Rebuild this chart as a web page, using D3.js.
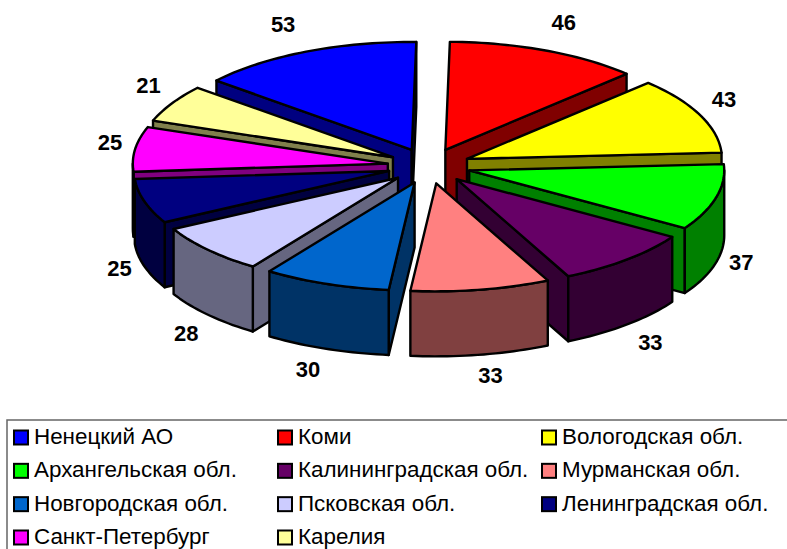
<!DOCTYPE html>
<html><head><meta charset="utf-8">
<script src="https://cdn.jsdelivr.net/npm/d3@7"></script>
<style>html,body{margin:0;padding:0;background:#fff;overflow:hidden}svg{display:block}text{font-family:"Liberation Sans",Arial,sans-serif}</style>
</head><body><svg id="c" width="787" height="549"></svg>
<script>
const regions = ["Ненецкий АО","Коми","Вологодская обл.","Архангельская обл.","Калининградская обл.","Мурманская обл.","Новгородская обл.","Псковская обл.","Ленинградская обл.","Санкт-Петербург","Карелия"];
const values = [53,46,43,37,33,33,30,28,25,25,21];
const topColors = ["#0000FF","#FF0000","#FFFF00","#00FF00","#660066","#FF8080","#0066CC","#CCCCFF","#000080","#FF00FF","#FFFF99"];
const sideColors = ["#000080","#800000","#808000","#008000","#330033","#804040","#003366","#666680","#000040","#800080","#80804C"];
const labelNudgeX = [-7,3,-11,-12,-2,3,-5,7,12,13,10];
const labelNudgeY = [0,-1,-3,-4,-1,-5,-4,2,-3,-3,-3];

const svg = d3.select("#c");
const cx = 429, cy = 166, rx = 255, ry = 108, depth = 65, explode = 0.163;
const firstAngle = -50 * Math.PI / 180;
const X = d3.scaleLinear().domain([-1,1]).range([cx-rx,cx+rx]);
const Y = d3.scaleLinear().domain([-1,1]).range([cy-ry,cy+ry]);
const pie = d3.pie().sort(null).value(d=>d).startAngle(firstAngle).endAngle(firstAngle+2*Math.PI);
const arcs = pie(values).map((a,i)=>({...a,i,mid:(a.startAngle+a.endAngle)/2}));
const line = d3.line().x(d=>d[0]).y(d=>d[1]);
const black = "#000";

function rimPts(a0,a1,ox,oy,dz){
  const n = Math.max(2,Math.ceil((a1-a0)*40));
  return d3.range(n+1).map(k=>{
    const a = a0+(a1-a0)*k/n;
    return [X(Math.sin(a)+ox), Y(-Math.cos(a)+oy)+dz];
  });
}
const order = arcs.slice().sort((p,q)=>Math.cos(q.mid)-Math.cos(p.mid));
const g = svg.append("g").attr("stroke",black).attr("stroke-width",2.4).attr("stroke-linejoin","round");
order.forEach(s=>{
  const ox = explode*Math.sin(s.mid), oy = -explode*Math.cos(s.mid);
  const ap = [X(ox),Y(oy)];
  const side = sideColors[s.i];
  const face = a=>{
    const o = rimPts(a,a,ox,oy,0)[0];
    g.append("path").attr("fill",side)
      .attr("d",line([ap,o,[o[0],o[1]+depth],[ap[0],ap[1]+depth]])+"Z");
  };
  if (Math.sin(s.startAngle)<0) face(s.startAngle);
  if (Math.sin(s.endAngle)>0) face(s.endAngle);
  const lo = Math.max(s.startAngle,Math.PI/2), hi = Math.min(s.endAngle,1.5*Math.PI);
  if (hi>lo){
    const t = rimPts(lo,hi,ox,oy,0), b = rimPts(lo,hi,ox,oy,depth).reverse();
    g.append("path").attr("fill",side).attr("d",line(t.concat(b))+"Z");
  }
  g.append("path").attr("fill",topColors[s.i])
    .attr("d",line([ap].concat(rimPts(s.startAngle,s.endAngle,ox,oy,0)))+"Z");
});

// value labels
svg.append("g").selectAll("text").data(arcs).join("text")
  .attr("text-anchor","middle").attr("dominant-baseline","central")
  .attr("font-size",22).attr("font-weight","bold").attr("fill",black)
  .attr("x",d=>cx+335*Math.sin(d.mid)+labelNudgeX[d.i])
  .attr("y",d=>cy-155*Math.cos(d.mid)+(Math.cos(d.mid)<0?62:0)+labelNudgeY[d.i])
  .text(d=>values[d.i]);

// legend
const colX = d3.scalePoint().domain([0,1,2]).range([14,542]);
const rowY = d3.scaleLinear().domain([0,3]).range([437.5,537.5]);
svg.append("rect").attr("x",7).attr("y",420).attr("width",800).attr("height",160)
  .attr("fill","none").attr("stroke","#666").attr("stroke-width",1.5);
const lg = svg.append("g").selectAll("g").data(regions).join("g")
  .attr("transform",(d,i)=>`translate(${colX(i%3)},${rowY(Math.floor(i/3))})`);
lg.append("rect").attr("x",0).attr("y",-7).attr("width",14).attr("height",14)
  .attr("fill",(d,i)=>topColors[i]).attr("stroke",black).attr("stroke-width",2);
lg.append("text").attr("x",20).attr("y",-1).attr("dominant-baseline","central")
  .attr("font-size",22.4).attr("fill",black).text(d=>d);
</script></body></html>
